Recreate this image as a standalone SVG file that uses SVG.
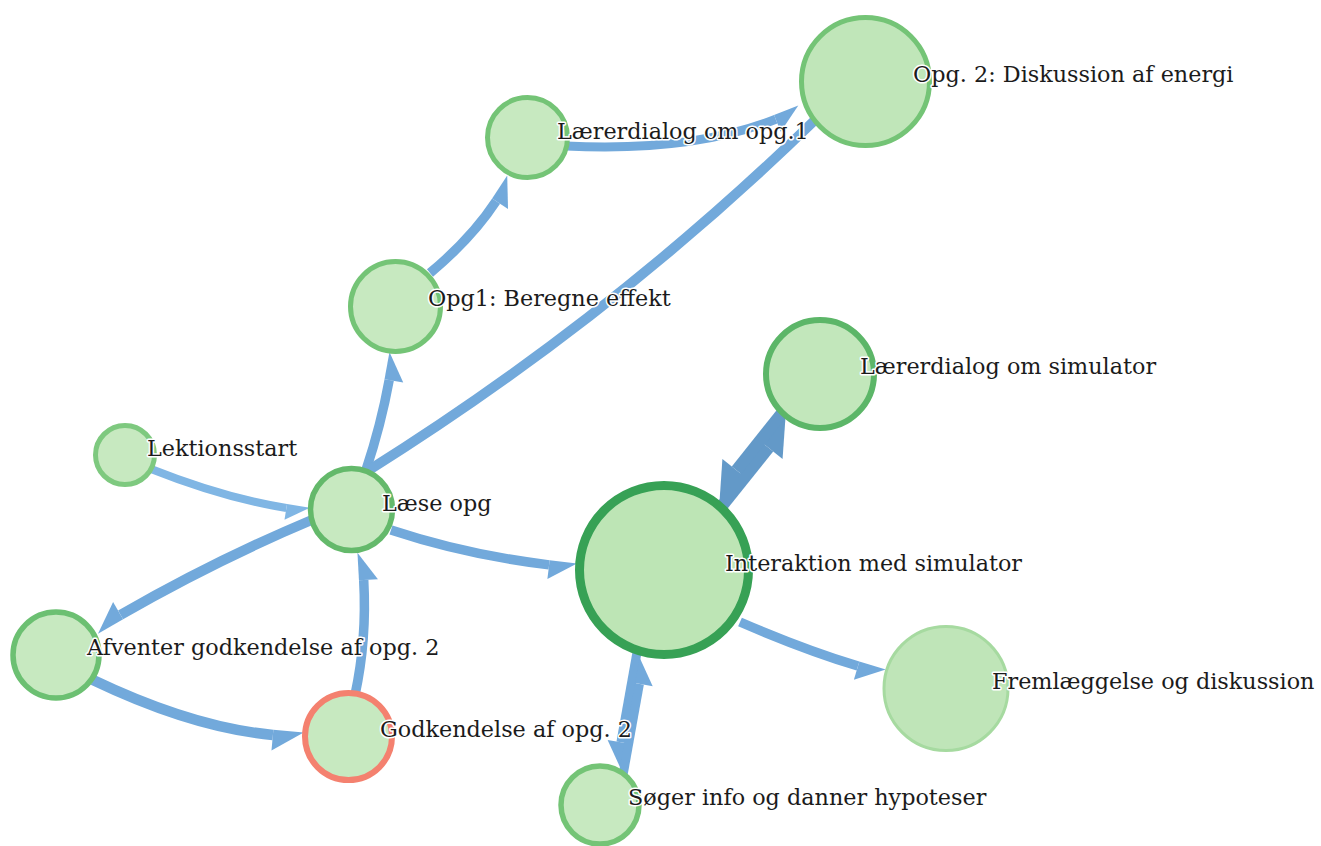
<svg xmlns="http://www.w3.org/2000/svg" width="1321" height="846" viewBox="0 0 1321 846">
  <style>
    .e{fill:none;stroke:#72a9db;stroke-linecap:butt;marker-end:url(#ah)}
    .e.light{stroke:#80b6e4;marker-end:url(#ahl)}
    .e.dark{stroke:#6399c8;marker-end:url(#ahd)}
    .e.plain{marker-end:none}
    circle{fill:#c7e9c0;stroke:#74c476}
    text{font-family:"DejaVu Serif","Liberation Serif",serif;font-size:22.3px;fill:#1b1b1b;stroke:#ffffff;stroke-width:3px;stroke-linejoin:round;paint-order:stroke}
  </style>
  <defs>
    <!-- half arrowheads: the barb sits on the right-hand side of travel -->
    <marker id="ah" markerUnits="strokeWidth" orient="auto" refX="0" refY="0" markerWidth="4" markerHeight="4" style="overflow:visible">
      <path d="M0,-0.5 L2.9,-0.5 L0,1.5 Z" fill="#72a9db"/>
    </marker>
    <marker id="ahl" markerUnits="strokeWidth" orient="auto" refX="0" refY="0" markerWidth="4" markerHeight="4" style="overflow:visible">
      <path d="M0,-0.5 L2.9,-0.5 L0,1.5 Z" fill="#80b6e4"/>
    </marker>
    <marker id="ahd" markerUnits="strokeWidth" orient="auto" refX="0" refY="0" markerWidth="4" markerHeight="4" style="overflow:visible">
      <path d="M0,-0.5 L2.9,-0.5 L0,1.5 Z" fill="#6399c8"/>
    </marker>
  </defs>

  <g id="edges">
    <path class="e light" stroke-width="8" d="M151,469 Q224,498 286.4,508"/>
    <path class="e" stroke-width="9.5" d="M366,470 Q381,425 389.2,380"/>
    <path class="e" stroke-width="9.5" d="M430,273 Q472,238 496.1,201.2"/>
    <path class="e" stroke-width="9" d="M566,146 Q692.7,152.2 775.7,119.2"/>
    <path class="e plain" stroke-width="10" d="M366,472 Q612,318 815,120"/>
    <path class="e" stroke-width="10" d="M314,519 Q214,561 120.6,614.9"/>
    <path class="e" stroke-width="10.5" d="M93,680 Q192.8,727.7 272.9,734.9"/>
    <path class="e" stroke-width="9.5" d="M355,695 Q367,640 363.7,580.1"/>
    <path class="e" stroke-width="9.5" d="M391,530 Q465.9,554.8 549.1,564.9"/>
    <path class="e dark" stroke-width="12" d="M718.1,510.8 L768.5,447.7"/>
    <path class="e dark" stroke-width="12" d="M784.3,410.2 L736.5,470.3"/>
    <path class="e" stroke-width="9" d="M637,652.4 L620.9,742.3"/>
    <path class="e" stroke-width="9" d="M622.9,775.8 L639.4,683.9"/>
    <path class="e" stroke-width="9.5" d="M740,622 Q805,650 858,666"/>
  </g>

  <g id="node-opg2">
    <circle cx="865.5" cy="81.5" r="64" stroke-width="5" style="fill:#c0e6b9"/>
    <text x="913" y="82">Opg. 2: Diskussion af energi</text>
  </g>
  <g id="node-laererdialog-opg1">
    <circle cx="527.5" cy="137.5" r="40" stroke-width="5"/>
    <text x="557" y="139">Lærerdialog om opg.1</text>
  </g>
  <g id="node-opg1">
    <circle cx="395.5" cy="306.5" r="45" stroke-width="5"/>
    <text x="428" y="306">Opg1: Beregne effekt</text>
  </g>
  <g id="node-laererdialog-simulator">
    <circle cx="820" cy="374" r="54" stroke-width="6" style="fill:#c2e7bb;stroke:#5cb668"/>
    <text x="860" y="374">Lærerdialog om simulator</text>
  </g>
  <g id="node-lektionsstart">
    <circle cx="125" cy="455" r="29.5" stroke-width="5" style="stroke:#7ec97f"/>
    <text x="147" y="456">Lektionsstart</text>
  </g>
  <g id="node-laese-opg">
    <circle cx="351.5" cy="509.5" r="41" stroke-width="5.5" style="stroke:#64b96b"/>
    <text x="382" y="511">Læse opg</text>
  </g>
  <g id="node-interaktion">
    <circle cx="664" cy="570" r="84.5" stroke-width="9" style="fill:#bde5b5;stroke:#37a155"/>
    <text x="725" y="571">Interaktion med simulator</text>
  </g>
  <g id="node-afventer">
    <circle cx="56" cy="655" r="43" stroke-width="5.5" style="stroke:#6cc072"/>
    <text x="87" y="655">Afventer godkendelse af opg. 2</text>
  </g>
  <g id="node-godkendelse">
    <circle cx="348.5" cy="736.5" r="43.5" stroke-width="6" style="stroke:#f4816f"/>
    <text x="380" y="737">Godkendelse af opg. 2</text>
  </g>
  <g id="node-fremlaeggelse">
    <circle cx="946" cy="688.5" r="62" stroke-width="3" style="fill:#bfe5b8;stroke:#a6daa0"/>
    <text x="992" y="689">Fremlæggelse og diskussion</text>
  </g>
  <g id="node-soeger">
    <circle cx="600" cy="805" r="39" stroke-width="5.5"/>
    <text x="628" y="805">Søger info og danner hypoteser</text>
  </g>
</svg>
